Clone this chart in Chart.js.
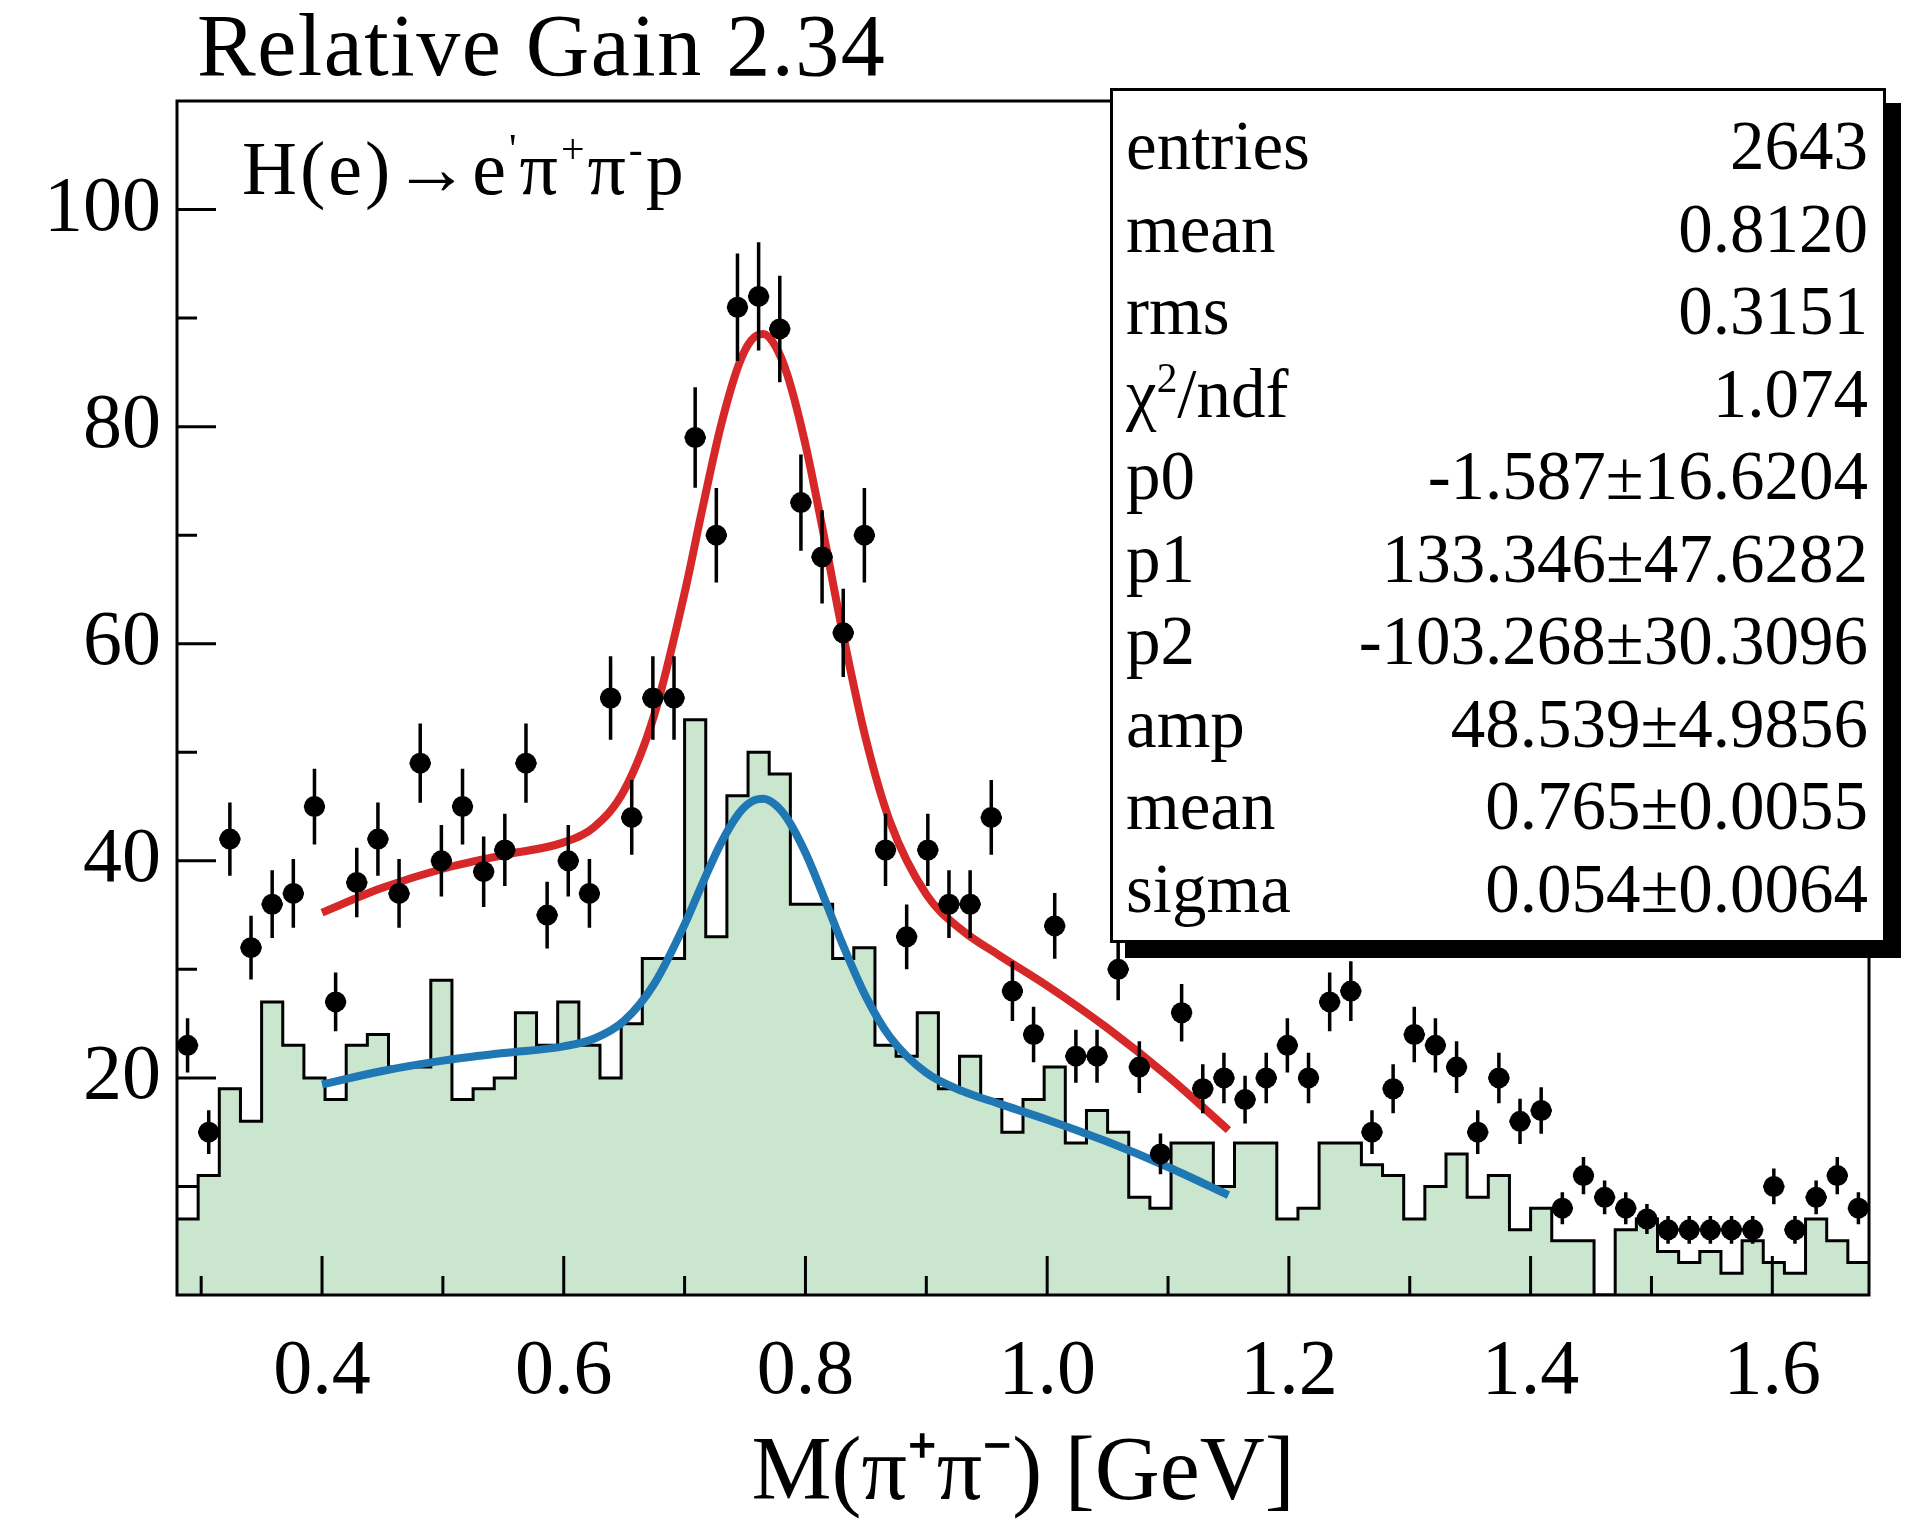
<!DOCTYPE html>
<html>
<head>
<meta charset="utf-8">
<script src="https://cdn.jsdelivr.net/npm/chart.js@4.4.1/dist/chart.umd.min.js"></script>
<style>
  body { margin: 0; background: #fff; }
  #wrap { position: relative; width: 1927px; height: 1524px; font-family: "Liberation Serif", serif; color: #000; }
  #plot { position: absolute; left: 0; top: 0; }
  .txt { position: absolute; white-space: nowrap; line-height: 1; }
  #title { left: 197px; top: 2px; font-size: 88px; letter-spacing: 1.5px; }
  #reaction { left: 242px; top: 130px; font-size: 76px; letter-spacing: 3px; }
  #reaction sup { font-size: 0.55em; vertical-align: 0; position: relative; top: -0.75em; }
  #stats {
    position: absolute; left: 1110px; top: 88px; width: 776px; height: 855px;
    box-sizing: border-box; border: 3px solid #000; background: #fff;
    box-shadow: 15px 15px 0 #000; padding: 14px 15px 0 13px; font-size: 69px;
  }
  #stats .row { display: flex; justify-content: space-between; height: 82.5px; line-height: 82.5px; }
  #stats sup { font-size: 0.6em; vertical-align: 0; position: relative; top: -0.6em; }
</style>
</head>
<body>
<div id="wrap">
  <canvas id="plot" width="1927" height="1524"></canvas>
  <div id="title" class="txt">Relative Gain 2.34</div>
  <div id="reaction" class="txt">H(e)→e<sup>'</sup>π<sup>+</sup>π<sup>-</sup>p</div>
  <div id="stats"></div>
</div>
<script>
// 80 bins of 0.0175 GeV starting at 0.28
const binLow = 0.28;
const binWidth = 0.0175;

// measured counts (black points)
const pointCounts = [23, 15, 42, 32, 36, 37, 45, 27, 38, 42,
  37, 49, 40, 45, 39, 41, 49, 35, 40, 37,
  55, 44, 55, 55, 79, 70, 91, 92, 89, 73,
  68, 61, 70, 41, 33, 41, 36, 36, 44, 28,
  24, 34, 22, 22, 30, 21, 13, 26, 19, 20,
  18, 20, 23, 20, 27, 28, 15, 19, 24, 23,
  21, 15, 20, 16, 17, 8, 11, 9, 8, 7,
  6, 6, 6, 6, 6, 10, 6, 9, 11, 8];

// shaded histogram
const histCounts = [7, 11, 19, 16, 27, 23, 20, 18, 23, 24,
  21, 21, 29, 18, 19, 20, 26, 23, 27, 23,
  20, 25, 31, 31, 53, 33, 46, 50, 48, 36,
  36, 31, 32, 23, 22, 26, 19, 22, 18, 15,
  18, 21, 14, 17, 15, 9, 8, 14, 14, 10,
  14, 14, 7, 8, 14, 14, 12, 11, 7, 10,
  13, 9, 11, 6, 8, 5, 5, 0, 6, 7,
  4, 3, 4, 2, 5, 3, 2, 7, 5, 3];

// fit curves sampled over 0.40 - 1.15
const fitX = [0.40, 0.45, 0.50, 0.55, 0.60, 0.625, 0.65, 0.675, 0.70, 0.715, 0.73, 0.745, 0.755, 0.765,
  0.775, 0.785, 0.80, 0.815, 0.83, 0.85, 0.87, 0.90, 0.93, 0.96, 1.00, 1.05, 1.10, 1.15];
const redFit = [35.23, 37.51, 39.27, 40.53, 41.70, 43.10, 46.48, 53.48, 64.68, 72.58, 80.07, 85.76, 87.94, 88.53,
  87.44, 84.78, 78.34, 70.11, 61.47, 51.21, 43.59, 36.91, 33.57, 31.32, 28.49, 24.57, 20.14, 15.19];
const blueFit = [19.40, 20.64, 21.59, 22.29, 22.91, 23.61, 25.27, 28.69, 34.14, 37.97, 41.61, 44.38, 45.43, 45.71,
  45.18, 43.88, 40.74, 36.72, 32.51, 27.49, 23.76, 20.47, 18.78, 17.63, 16.15, 14.11, 11.79, 9.20];

// axis ticks
const xTickLabels = [0.4, 0.6, 0.8, 1.0, 1.2, 1.4, 1.6];
const xMinorTicks = [0.3, 0.5, 0.7, 0.9, 1.1, 1.3, 1.5];
const yTickLabels = [20, 40, 60, 80, 100];
const yMinorTicks = [10, 30, 50, 70, 90];

// stats box
const statNames = ['entries', 'mean', 'rms', 'χ<sup>2</sup>/ndf', 'p0', 'p1', 'p2', 'amp', 'mean', 'sigma'];
const statValues = ['2643', '0.8120', '0.3151', '1.074', '-1.587±16.6204', '133.346±47.6282',
  '-103.268±30.3096', '48.539±4.9856', '0.765±0.0055', '0.054±0.0064'];

document.getElementById('stats').innerHTML = statNames
  .map((n, i) => `<div class="row"><span>${n}</span><span>${statValues[i]}</span></div>`)
  .join('');

const pointErrors = pointCounts.map(n => 0.52 * Math.sqrt(n));
const binCenter = i => binLow + (i + 0.5) * binWidth;

const histPoints = histCounts.map((v, i) => ({ x: binLow + i * binWidth, y: v }));
histPoints.push({ x: binLow + histCounts.length * binWidth, y: histCounts[histCounts.length - 1] });

// error bars for the black points
const errorBars = {
  id: 'errorBars',
  afterDatasetsDraw(chart) {
    const { ctx, scales: { x, y } } = chart;
    ctx.save();
    ctx.strokeStyle = '#000';
    ctx.lineWidth = 3.5;
    pointCounts.forEach((n, i) => {
      const xc = binCenter(i);
      const px = x.getPixelForValue(xc);
      const py = y.getPixelForValue(n);
      ctx.beginPath();
      ctx.moveTo(px, y.getPixelForValue(n - pointErrors[i]));
      ctx.lineTo(px, y.getPixelForValue(n + pointErrors[i]));
      ctx.moveTo(x.getPixelForValue(xc - binWidth / 2), py);
      ctx.lineTo(x.getPixelForValue(xc + binWidth / 2), py);
      ctx.stroke();
    });
    ctx.restore();
  }
};

// frame and inward tick marks
const frameTicks = {
  id: 'frameTicks',
  afterDraw(chart) {
    const { ctx, chartArea: a, scales: { x, y } } = chart;
    ctx.save();
    ctx.strokeStyle = '#000';
    ctx.lineWidth = 3;
    ctx.beginPath();
    xTickLabels.forEach(v => { const p = x.getPixelForValue(v); ctx.moveTo(p, a.bottom); ctx.lineTo(p, a.bottom - 39); });
    xMinorTicks.forEach(v => { const p = x.getPixelForValue(v); ctx.moveTo(p, a.bottom); ctx.lineTo(p, a.bottom - 19); });
    yTickLabels.forEach(v => { const p = y.getPixelForValue(v); ctx.moveTo(a.left, p); ctx.lineTo(a.left + 39, p); });
    yMinorTicks.forEach(v => { const p = y.getPixelForValue(v); ctx.moveTo(a.left, p); ctx.lineTo(a.left + 20, p); });
    ctx.stroke();
    ctx.strokeRect(a.left, a.top, a.right - a.left, a.bottom - a.top);
    ctx.restore();
  }
};

Chart.defaults.font.family = '"Liberation Serif", serif';
Chart.defaults.color = '#000';

new Chart(document.getElementById('plot'), {
  type: 'line',
  data: {
    datasets: [
      {
        label: 'data',
        data: pointCounts.map((v, i) => ({ x: binCenter(i), y: v })),
        showLine: false,
        pointRadius: 10.5,
        pointBackgroundColor: '#000',
        pointBorderWidth: 0,
        order: 0
      },
      {
        label: 'fit',
        data: fitX.map((x, i) => ({ x, y: redFit[i] })),
        borderColor: 'rgb(214, 40, 40)',
        borderWidth: 8,
        pointRadius: 0,
        cubicInterpolationMode: 'monotone',
        order: 1
      },
      {
        label: 'fit (shaded)',
        data: fitX.map((x, i) => ({ x, y: blueFit[i] })),
        borderColor: 'rgb(31, 119, 180)',
        borderWidth: 8,
        pointRadius: 0,
        cubicInterpolationMode: 'monotone',
        order: 2
      },
      {
        label: 'histogram',
        data: histPoints,
        stepped: true,
        borderColor: '#000',
        borderWidth: 3,
        backgroundColor: 'rgb(203, 230, 207)',
        fill: 'origin',
        pointRadius: 0,
        order: 3
      }
    ]
  },
  options: {
    responsive: false,
    animation: false,
    layout: { padding: { top: 101, right: 58, bottom: 0, left: 0 } },
    plugins: { legend: { display: false }, tooltip: { enabled: false } },
    scales: {
      x: {
        type: 'linear',
        min: 0.28,
        max: 1.68,
        grid: { display: false },
        border: { display: false },
        afterBuildTicks: s => { s.ticks = xTickLabels.map(v => ({ value: v })); },
        afterFit: s => { s.height = 229; },
        ticks: {
          font: { size: 78 },
          padding: 23,
          maxRotation: 0,
          callback: v => v.toFixed(1)
        },
        title: {
          display: true,
          text: 'M(π⁺π⁻) [GeV]',
          font: { size: 90, lineHeight: 1 },
          padding: { top: 0, bottom: 4 }
        }
      },
      y: {
        min: 0,
        max: 110,
        grid: { display: false },
        border: { display: false },
        afterBuildTicks: s => { s.ticks = yTickLabels.map(v => ({ value: v })); },
        afterFit: s => { s.width = 177; },
        ticks: { font: { size: 78 }, padding: 8 }
      }
    }
  },
  plugins: [errorBars, frameTicks]
});
</script>
</body>
</html>
